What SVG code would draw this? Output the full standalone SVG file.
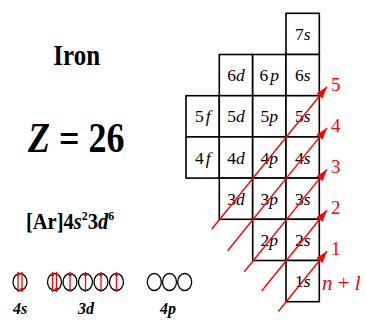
<svg xmlns="http://www.w3.org/2000/svg" width="365" height="320" viewBox="0 0 365 320">
<style>
text{font-family:"Liberation Serif","Times New Roman",serif;fill:#000}
.cell rect{fill:#fff;stroke:#000;stroke-width:1.6}
.cell text{font-size:17.5px;text-anchor:middle}
.it{font-style:italic}
.red{fill:#f00}
.arr{stroke:#f00;stroke-width:1.4;fill:none;marker-end:url(#ah)}
.orb ellipse{fill:none;stroke:#000;stroke-width:1.3}
.spin{stroke:#f00;stroke-width:1.3}
.lbl{font-size:16px;font-weight:bold;font-style:italic;text-anchor:middle}
</style>
<defs>
<marker id="ah" markerUnits="userSpaceOnUse" markerWidth="14" markerHeight="10" refX="12" refY="4" orient="auto" viewBox="0 0 14 8">
<path d="M0,0 L12,4 L0,8 z" fill="#f00"/>
</marker>
<marker id="sa" markerUnits="userSpaceOnUse" markerWidth="5" markerHeight="5" refX="4" refY="2" orient="auto" viewBox="0 0 5 4">
<path d="M0,0 L4,2 L0,4 z" fill="#f00"/>
</marker>
</defs>

<g id="title">
<text transform="translate(53.3,64.5) scale(1,1.15)" font-size="25" font-weight="bold">Iron</text>
<text transform="translate(28,151.5) scale(1,1.2)" font-size="36" font-weight="bold"><tspan font-style="italic">Z</tspan> = 26</text>
<text transform="translate(26,229) scale(1,1.08)" font-size="20.5" font-weight="bold">[Ar]4<tspan class="it">s</tspan><tspan font-size="12" dy="-8">2</tspan><tspan dy="8">3</tspan><tspan class="it">d</tspan><tspan font-size="12" dy="-8">6</tspan></text>
</g>

<g id="cell-7s" class="cell"><rect x="286" y="13.3" width="33.3" height="41.2"/><text x="302.7" y="40">7<tspan class="it">s</tspan></text></g>
<g id="cell-6d" class="cell"><rect x="219.3" y="54.5" width="33.3" height="41.2"/><text x="236" y="81.2">6<tspan class="it">d</tspan></text></g>
<g id="cell-6p" class="cell"><rect x="252.7" y="54.5" width="33.3" height="41.2"/><text x="269.3" y="81.2">6<tspan class="it" dx="2">p</tspan></text></g>
<g id="cell-6s" class="cell"><rect x="286" y="54.5" width="33.3" height="41.2"/><text x="302.7" y="81.2">6<tspan class="it">s</tspan></text></g>
<g id="cell-5f" class="cell"><rect x="186" y="95.7" width="33.3" height="41.2"/><text x="202.7" y="122.4">5<tspan class="it" dx="2">f</tspan></text></g>
<g id="cell-5d" class="cell"><rect x="219.3" y="95.7" width="33.3" height="41.2"/><text x="236" y="122.4">5<tspan class="it">d</tspan></text></g>
<g id="cell-5p" class="cell"><rect x="252.7" y="95.7" width="33.3" height="41.2"/><text x="269.3" y="122.4">5<tspan class="it">p</tspan></text></g>
<g id="cell-5s" class="cell"><rect x="286" y="95.7" width="33.3" height="41.2"/><text x="302.7" y="122.4">5<tspan class="it">s</tspan></text></g>
<g id="cell-4f" class="cell"><rect x="186" y="136.9" width="33.3" height="41.2"/><text x="202.7" y="163.6">4<tspan class="it" dx="2">f</tspan></text></g>
<g id="cell-4d" class="cell"><rect x="219.3" y="136.9" width="33.3" height="41.2"/><text x="236" y="163.6">4<tspan class="it">d</tspan></text></g>
<g id="cell-4p" class="cell"><rect x="252.7" y="136.9" width="33.3" height="41.2"/><text x="269.3" y="163.6">4<tspan class="it">p</tspan></text></g>
<g id="cell-4s" class="cell"><rect x="286" y="136.9" width="33.3" height="41.2"/><text x="302.7" y="163.6">4<tspan class="it">s</tspan></text></g>
<g id="cell-3d" class="cell"><rect x="219.3" y="178.1" width="33.3" height="41.2"/><text x="236" y="204.8">3<tspan class="it">d</tspan></text></g>
<g id="cell-3p" class="cell"><rect x="252.7" y="178.1" width="33.3" height="41.2"/><text x="269.3" y="204.8">3<tspan class="it">p</tspan></text></g>
<g id="cell-3s" class="cell"><rect x="286" y="178.1" width="33.3" height="41.2"/><text x="302.7" y="204.8">3<tspan class="it">s</tspan></text></g>
<g id="cell-2p" class="cell"><rect x="252.7" y="219.3" width="33.3" height="41.2"/><text x="269.3" y="246">2<tspan class="it">p</tspan></text></g>
<g id="cell-2s" class="cell"><rect x="286" y="219.3" width="33.3" height="41.2"/><text x="302.7" y="246">2<tspan class="it">s</tspan></text></g>
<g id="cell-1s" class="cell"><rect x="286" y="260.5" width="33.3" height="41.2"/><text x="302.7" y="287.2">1<tspan class="it">s</tspan></text></g>

<g id="connectors">
<line class="arr" x1="278.3" y1="311.5" x2="327" y2="251.3"/>
<line class="arr" x1="261.7" y1="291" x2="327" y2="210.2"/>
<line class="arr" x1="244.3" y1="271.7" x2="327" y2="169.4"/>
<line class="arr" x1="227.7" y1="250.7" x2="327" y2="127.9"/>
<line class="arr" x1="211.7" y1="229.3" x2="327" y2="86.7"/>
</g>

<g id="nl-labels">
<text class="red" x="331" y="255" font-size="19">1</text>
<text class="red" x="331" y="214" font-size="19">2</text>
<text class="red" x="331" y="173" font-size="19">3</text>
<text class="red" x="331" y="132" font-size="19">4</text>
<text class="red" x="331" y="91" font-size="19">5</text>
<text class="red" x="322" y="290" font-size="21"><tspan class="it">n</tspan> + <tspan class="it">l</tspan></text>
</g>

<g id="orb-4s" class="orb">
<ellipse cx="20" cy="282" rx="7" ry="8.5"/>
<line class="spin" x1="18" y1="292" x2="18" y2="272" marker-end="url(#sa)"/>
<line class="spin" x1="22" y1="272" x2="22" y2="292" marker-end="url(#sa)"/>
<text class="lbl" x="20" y="314">4s</text>
</g>
<g id="orb-3d" class="orb">
<ellipse cx="54.5" cy="282" rx="7" ry="8.5"/>
<ellipse cx="70" cy="282" rx="7" ry="8.5"/>
<ellipse cx="85.5" cy="282" rx="7" ry="8.5"/>
<ellipse cx="101" cy="282" rx="7" ry="8.5"/>
<ellipse cx="116.5" cy="282" rx="7" ry="8.5"/>
<line class="spin" x1="52.5" y1="292" x2="52.5" y2="272" marker-end="url(#sa)"/>
<line class="spin" x1="56.5" y1="272" x2="56.5" y2="292" marker-end="url(#sa)"/>
<line class="spin" x1="70" y1="292" x2="70" y2="272" marker-end="url(#sa)"/>
<line class="spin" x1="85.5" y1="292" x2="85.5" y2="272" marker-end="url(#sa)"/>
<line class="spin" x1="101" y1="292" x2="101" y2="272" marker-end="url(#sa)"/>
<line class="spin" x1="116.5" y1="292" x2="116.5" y2="272" marker-end="url(#sa)"/>
<text class="lbl" x="86" y="314">3d</text>
</g>
<g id="orb-4p" class="orb">
<ellipse cx="154.3" cy="282" rx="7" ry="8.5"/>
<ellipse cx="169.5" cy="282" rx="7" ry="8.5"/>
<ellipse cx="184.7" cy="282" rx="7" ry="8.5"/>
<text class="lbl" x="168" y="314">4p</text>
</g>
</svg>
